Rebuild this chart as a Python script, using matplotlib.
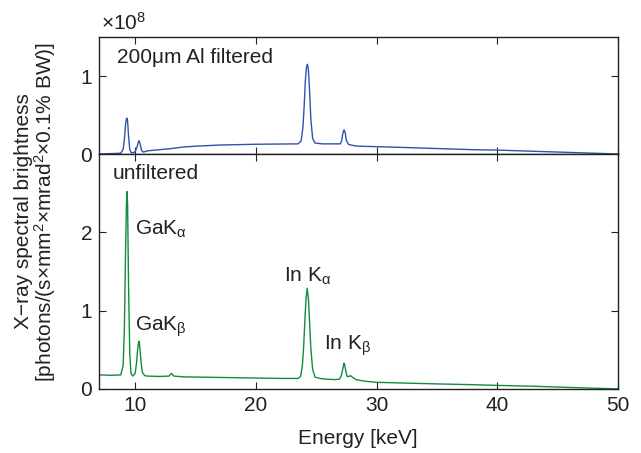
import matplotlib
matplotlib.use("Agg")
import matplotlib.pyplot as plt

plt.rcParams['font.family'] = ['Liberation Sans', 'DejaVu Sans']
plt.rcParams['mathtext.fontset'] = 'custom'
plt.rcParams['mathtext.rm'] = 'Liberation Sans'
plt.rcParams['mathtext.it'] = 'Liberation Sans:italic'
plt.rcParams['mathtext.bf'] = 'Liberation Sans:bold'

# ---------------- data (values in units of 1e8) ----------------
energy_unf = [7.0, 8.0, 8.8, 9.0, 9.1, 9.2, 9.27, 9.32, 9.37, 9.45, 9.55, 9.65, 9.8,
              10.0, 10.1, 10.2, 10.28, 10.33, 10.4, 10.5, 10.6, 10.8, 11.0, 12.0,
              12.8, 13.0, 13.2, 14.0, 16.0, 18.0, 20.0, 22.0, 23.5, 23.7, 23.85, 23.95,
              24.05, 24.15, 24.25, 24.35, 24.45, 24.55, 24.7, 24.9, 25.5, 26.5, 26.9,
              27.05, 27.15, 27.25, 27.3, 27.35, 27.45, 27.55, 27.7, 27.85, 28.0, 28.3,
              29.0, 30.0, 32.0, 35.0, 38.0, 40.0, 43.0, 46.0, 48.0, 50.0]
bright_unf = [0.18, 0.175, 0.18, 0.30, 0.75, 1.75, 2.35, 2.52, 2.35, 1.30, 0.45, 0.20, 0.165,
              0.20, 0.32, 0.50, 0.60, 0.61, 0.50, 0.32, 0.21, 0.17, 0.165, 0.16,
              0.165, 0.20, 0.165, 0.155, 0.15, 0.145, 0.14, 0.135, 0.135, 0.16, 0.30, 0.52,
              0.85, 1.15, 1.285, 1.15, 0.85, 0.52, 0.25, 0.15, 0.13, 0.12, 0.125,
              0.16, 0.22, 0.30, 0.33, 0.31, 0.23, 0.16, 0.16, 0.17, 0.15, 0.12,
              0.10, 0.085, 0.077, 0.065, 0.055, 0.046, 0.035, 0.02, 0.01, 0.002]

energy_filt = [7.0, 8.0, 8.8, 9.0, 9.1, 9.2, 9.27, 9.32, 9.37, 9.45, 9.55, 9.65, 9.8,
               10.0, 10.15, 10.25, 10.33, 10.42, 10.52, 10.65, 10.8, 11.0, 12.0, 13.0,
               14.0, 15.0, 17.0, 20.0, 23.5, 23.75, 23.9, 24.0, 24.1, 24.2, 24.27, 24.35,
               24.45, 24.55, 24.7, 24.9, 25.5, 27.0, 27.1, 27.2, 27.3, 27.4, 27.5, 27.7,
               27.9, 28.2, 28.5, 30.0, 32.0, 35.0, 38.0, 40.0, 43.0, 45.0, 48.0, 50.0]
bright_filt = [0.0, 0.005, 0.01, 0.06, 0.18, 0.38, 0.45, 0.46, 0.42, 0.22, 0.06, 0.02, 0.015,
               0.03, 0.09, 0.15, 0.17, 0.12, 0.05, 0.025, 0.03, 0.04, 0.055, 0.07,
               0.09, 0.10, 0.115, 0.125, 0.13, 0.17, 0.35, 0.62, 0.95, 1.12, 1.15, 1.08,
               0.80, 0.45, 0.20, 0.14, 0.13, 0.13, 0.17, 0.26, 0.31, 0.27, 0.17, 0.12,
               0.115, 0.105, 0.10, 0.094, 0.085, 0.07, 0.055, 0.05, 0.035, 0.025, 0.01, 0.0]

x_ticks = [10, 20, 30, 40, 50]
top_yticks = [0, 1]
bot_yticks = [0, 1, 2]

# ---------------- figure ----------------
W, H = 641, 453
fig = plt.figure(figsize=(W / 100, H / 100), dpi=100)

left = 99 / W
right = 618 / W
ax_top = fig.add_axes([left, 1 - 154 / H, right - left, (154 - 37) / H])
ax_bot = fig.add_axes([left, 1 - 389 / H, right - left, (389 - 154) / H])

blue = '#2f52ad'
green = '#138a3e'
ax_top.plot(energy_filt, bright_filt, color=blue, lw=1.0)
ax_bot.plot(energy_unf, bright_unf, color=green, lw=1.0)

FS = 15
tc = '#222222'
for ax in (ax_top, ax_bot):
    ax.set_xlim(7, 50)
    ax.set_xticks(x_ticks)
    ax.tick_params(direction='in', top=True, right=True, length=5, width=0.8,
                   labelsize=FS, colors=tc, pad=5)
    for s in ax.spines.values():
        s.set_linewidth(1.0)
        s.set_color(tc)

ax_top.set_ylim(0, 1.5)
ax_top.set_yticks(top_yticks)
ax_top.set_xticklabels([])
ax_bot.set_ylim(0, 3)
ax_bot.set_yticks(bot_yticks)

ax_top.text(8.45, 1.24, '200\u03bcm Al filtered', fontsize=FS, color=tc, va='center', ha='left')
ax_bot.text(8.1, 2.75, 'unfiltered', fontsize=FS, color=tc, va='center', ha='left')
ax_bot.text(10.0, 2.04, r'GaK$_{\mathrm{\alpha}}$', fontsize=FS, color=tc, va='center', ha='left')
ax_bot.text(10.0, 0.80, r'GaK$_{\mathrm{\beta}}$', fontsize=FS, color=tc, va='center', ha='left')
ax_bot.text(22.3, 1.44, r'In K$_{\mathrm{\alpha}}$', fontsize=FS, color=tc, va='center', ha='left')
ax_bot.text(25.66, 0.55, r'In K$_{\mathrm{\beta}}$', fontsize=FS, color=tc, va='center', ha='left')

fig.text(101 / W, 1 - 23 / H, '\u00d710$^{8}$', fontsize=FS, color=tc, va='center', ha='left')

fig.text(358 / W, 1 - 439 / H, 'Energy [keV]', fontsize=FS, color=tc, ha='center', va='center')
fig.text(24 / W, 1 - 211 / H, 'X\u2212ray spectral brightness', fontsize=FS, color=tc,
         rotation=90, ha='center', va='center')
fig.text(45 / W, 1 - 212 / H, '[photons/(s\u00d7mm$^{2}$\u00d7mrad$^{2}$\u00d70.1% BW)]',
         fontsize=FS, color=tc, rotation=90, ha='center', va='center')

fig.savefig('out.png', dpi=100)
